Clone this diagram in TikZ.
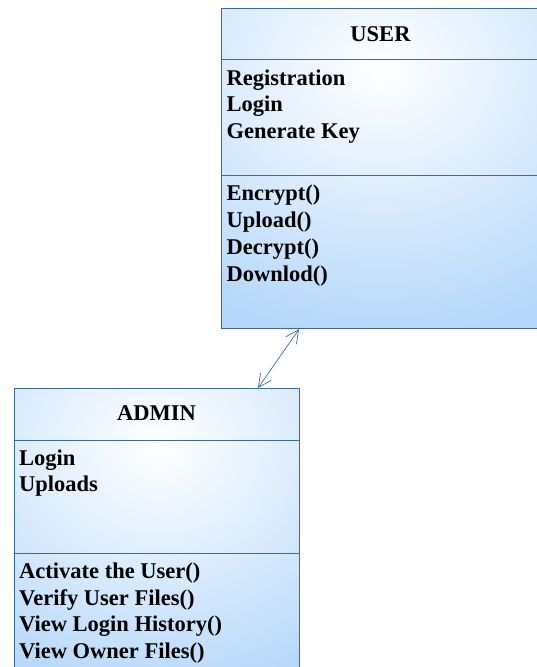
\documentclass[tikz,border=0pt]{standalone}
\usepackage{fontspec}
\setmainfont{Liberation Serif}
\usetikzlibrary{arrows.meta,calc}

\definecolor{boxblue}{RGB}{180,215,250}
\definecolor{edgeblue}{RGB}{58,106,160}

\tikzset{
  classbox/.style={draw=edgeblue, line width=1.2pt, inner sep=0pt, anchor=north west},
  divider/.style={draw=edgeblue, line width=1pt},
  title/.style={font=\bfseries\fontsize{22.5}{26}\selectfont, inner sep=0pt, anchor=base},
  member/.style={font=\bfseries\fontsize{22.5}{26}\selectfont, inner sep=0pt, anchor=base west},
  assoc/.style={draw=edgeblue, line width=0.7pt,
    {Straight Barb[length=13pt,width=13pt,line width=0.7pt]}-{Straight Barb[length=13pt,width=13pt,line width=0.7pt]}}
}

\begin{document}
\begin{tikzpicture}[x=1pt,y=-1pt]
\useasboundingbox (0,0) rectangle (536,667);

% USER class: shaded body
\begin{scope}
  \clip (221,8) rectangle (540,328);
  \fill[boxblue] (221,8) rectangle (540,328);
  \shade[inner color=white, outer color=boxblue] (380,70) ellipse (330pt and 270pt);
\end{scope}
\node[classbox, minimum width=319pt, minimum height=320pt] (user) at (221,8) {};
\draw[divider] (221,59) -- (540,59);
\draw[divider] (221,175) -- (540,175);

\node[title] (usertitle) at (380.5,41) {USER};
\node[member] (ua1) at (226.5,85) {Registration};
\node[member] (ua2) at (226.5,111.7) {Login};
\node[member] (ua3) at (226.5,138.3) {Generate Key};
\node[member] (um1) at (226.5,200.7) {Encrypt()};
\node[member] (um2) at (226.5,227.7) {Upload()};
\node[member] (um3) at (226.5,254.7) {Decrypt()};
\node[member] (um4) at (226.5,281.7) {Downlod()};

% ADMIN class: shaded body
\begin{scope}
  \clip (14,388) rectangle (299,672);
  \fill[boxblue] (14,388) rectangle (299,672);
  \shade[inner color=white, outer color=boxblue] (158,445) ellipse (300pt and 260pt);
\end{scope}
\node[classbox, minimum width=285pt, minimum height=284pt] (admin) at (14,388) {};
\draw[divider] (14,440) -- (299,440);
\draw[divider] (14,553) -- (299,553);

\node[title] (admintitle) at (156.5,420) {ADMIN};
\node[member] (aa1) at (19,465) {Login};
\node[member] (aa2) at (19,491.7) {Uploads};
\node[member] (am1) at (19,578.3) {Activate the User()};
\node[member] (am2) at (19,605) {Verify User Files()};
\node[member] (am3) at (19,631.7) {View Login History()};
\node[member] (am4) at (19,658.3) {View Owner Files()};

% association between the two classes
\coordinate (userend) at ($(user.south west)+(78,0)$);
\coordinate (adminend) at ($(admin.north west)+(244,0)$);
\draw[assoc] (userend) -- (adminend);
\end{tikzpicture}
\end{document}
